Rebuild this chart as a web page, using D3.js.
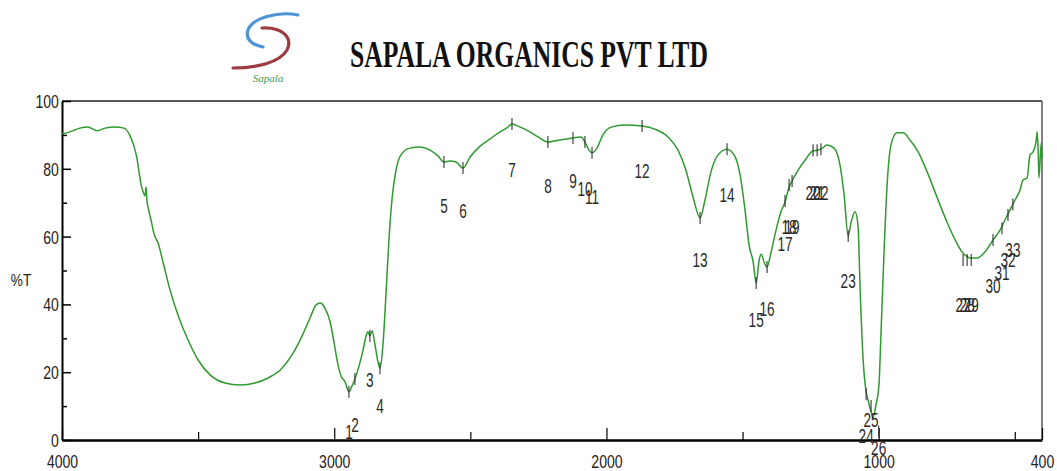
<!DOCTYPE html>
<html>
<head>
<meta charset="utf-8">
<script src="https://cdn.jsdelivr.net/npm/d3@7"></script>
<style>
  html, body { margin: 0; padding: 0; background: #fff; }
  svg { display: block; }
</style>
</head>
<body>
<script>
// Spectrum trace (wavenumber cm-1, %T)
const wavenumbers = [4000, 3971, 3934, 3905, 3871, 3842, 3805, 3772, 3750, 3736, 3725, 3717, 3710, 3702, 3695, 3691, 3688, 3680, 3673, 3662, 3647, 3629, 3603, 3574, 3537, 3500, 3456, 3401, 3346, 3291, 3243, 3199, 3155, 3118, 3089, 3067, 3052, 3034, 3015, 3001, 2986, 2975, 2960, 2946, 2935, 2924, 2909, 2894, 2883, 2876, 2869, 2861, 2850, 2839, 2832, 2821, 2810, 2799, 2788, 2773, 2755, 2722, 2685, 2648, 2619, 2597, 2575, 2553, 2527, 2501, 2464, 2428, 2391, 2362, 2347, 2325, 2288, 2251, 2215, 2171, 2123, 2093, 2079, 2064, 2053, 2035, 2013, 1983, 1932, 1869, 1822, 1774, 1737, 1708, 1682, 1656, 1638, 1616, 1590, 1557, 1531, 1509, 1491, 1476, 1461, 1450, 1439, 1432, 1421, 1410, 1395, 1377, 1359, 1344, 1329, 1318, 1296, 1270, 1241, 1226, 1212, 1190, 1164, 1142, 1127, 1112, 1101, 1087, 1076, 1068, 1057, 1046, 1039, 1028, 1021, 1010, 999, 991, 980, 969, 955, 933, 910, 885, 855, 822, 786, 749, 719, 694, 679, 664, 639, 609, 580, 554, 536, 521, 499, 481, 470, 455, 444, 433, 422, 418, 414, 411, 403, 400];
const transmittance = [90.3, 90.9, 92.0, 92.3, 91.2, 92.0, 92.3, 92.0, 89.7, 86.7, 83.2, 79.1, 75.5, 73.2, 72.0, 74.6, 70.8, 67.3, 64.9, 60.8, 58.1, 52.5, 44.2, 36.9, 29.5, 23.6, 19.2, 16.8, 16.2, 16.8, 18.3, 20.6, 25.1, 30.7, 36.0, 39.8, 40.4, 38.9, 34.8, 28.9, 22.1, 18.9, 17.1, 14.2, 15.9, 18.0, 21.8, 26.5, 30.7, 31.9, 30.7, 32.2, 28.0, 23.0, 21.2, 28.0, 42.8, 59.0, 70.8, 79.6, 84.1, 86.1, 86.4, 85.5, 83.8, 82.0, 82.3, 82.0, 80.2, 83.5, 86.7, 88.8, 90.9, 92.3, 93.2, 92.6, 91.2, 89.4, 87.9, 88.5, 89.1, 89.4, 87.9, 85.5, 84.7, 86.1, 90.0, 92.3, 92.9, 92.6, 91.7, 89.4, 85.5, 79.6, 71.7, 65.5, 70.8, 79.1, 84.1, 85.8, 84.1, 78.2, 67.8, 57.5, 52.5, 46.3, 53.1, 54.9, 52.5, 51.0, 55.5, 61.9, 67.3, 70.2, 74.6, 76.4, 79.6, 82.6, 85.3, 85.5, 85.8, 87.0, 86.1, 81.1, 72.3, 60.2, 64.3, 67.3, 63.4, 44.2, 23.6, 14.2, 11.8, 8.3, 6.5, 10.3, 16.2, 32.4, 56.0, 75.2, 87.0, 90.6, 90.6, 88.5, 85.0, 79.1, 71.7, 64.3, 59.0, 55.5, 54.3, 53.7, 53.7, 55.5, 59.0, 61.9, 64.9, 67.3, 70.8, 73.7, 76.7, 77.3, 84.1, 85.0, 87.9, 90.9, 85.0, 77.3, 87.6, 83.2];

// Peak picks: number, wavenumber, %T at the mark, %T where the number sits
const peakNumbers = [1, 2, 3, 4, 5, 6, 7, 8, 9, 10, 11, 12, 13, 14, 15, 16, 17, 18, 19, 20, 21, 22, 23, 24, 25, 26, 27, 28, 29, 30, 31, 32, 33];
const peakWavenumbers = [2946, 2924, 2869, 2832, 2597, 2527, 2347, 2215, 2123, 2079, 2053, 1869, 1656, 1557, 1450, 1410, 1344, 1329, 1318, 1241, 1226, 1212, 1112, 1046, 1028, 1000, 690, 675, 660, 580, 547, 525, 507];
const peakMarkT = [14.2, 18.0, 30.7, 21.2, 82.0, 80.2, 93.2, 87.9, 89.1, 87.9, 84.7, 92.6, 65.5, 85.8, 46.3, 51.0, 70.5, 75.2, 76.4, 85.5, 85.5, 85.8, 60.2, 13.5, 10.0, 2.5, 53.1, 53.1, 53.1, 59.0, 62.5, 66.4, 69.5];
const peakLabelT = [0.3, 2.4, 15.6, 8.0, 67.0, 65.5, 77.6, 72.9, 74.3, 72.0, 69.6, 77.3, 51.0, 70.2, 33.3, 36.6, 55.8, 60.8, 60.8, 70.8, 70.8, 70.8, 44.8, -0.9, 3.8, -4.4, 37.8, 37.8, 37.8, 43.4, 47.2, 51.0, 54.0];

// Axis ticks
const xMajorTicks = [4000, 3000, 2000, 1000, 400];
const xMinorTicks = [3500, 2500, 1500, 500];
const yMajorTicks = [0, 20, 40, 60, 80, 100];
const yMinorTicks = [10, 30, 50, 70, 90];

const W = 1057, H = 471;
const margin = { top: 101, right: 15, bottom: 31, left: 62 };
const width = W - margin.left - margin.right;
const height = H - margin.top - margin.bottom;
const green = '#2f9a2f';
const sansFont = '"Liberation Sans", Arial, sans-serif';

const svg = d3.select('body').append('svg')
    .attr('width', W)
    .attr('height', H);

svg.append('rect').attr('width', W).attr('height', H).attr('fill', '#fff');

// Logo
const logo = svg.append('g').attr('id', 'logo');
logo.append('path')
    .attr('d', 'M298,15 C278,11 252,18 248,30 C245,39 252,45 263,47')
    .attr('fill', 'none')
    .attr('stroke', '#4d93d6')
    .attr('stroke-width', 3.2)
    .attr('stroke-linecap', 'round');
logo.append('path')
    .attr('d', 'M262,28 C283,27 293,38 287,50 C280,62 258,68 233,68')
    .attr('fill', 'none')
    .attr('stroke', '#9c3b41')
    .attr('stroke-width', 3.2)
    .attr('stroke-linecap', 'round');
logo.append('text')
    .attr('x', 268)
    .attr('y', 82)
    .attr('text-anchor', 'middle')
    .attr('font-family', '"Liberation Serif", serif')
    .attr('font-style', 'italic')
    .attr('font-size', 11)
    .attr('fill', '#3c9a5c')
    .text('Sapala');

// Title
svg.append('text')
    .attr('x', 350)
    .attr('y', 67)
    .attr('font-family', '"Liberation Serif", "Times New Roman", serif')
    .attr('font-weight', 'bold')
    .attr('font-size', 38)
    .attr('textLength', 358)
    .attr('lengthAdjust', 'spacingAndGlyphs')
    .attr('fill', '#111')
    .text('SAPALA ORGANICS PVT LTD');

const g = svg.append('g')
    .attr('transform', `translate(${margin.left},${margin.top})`);

// Scales
const x = d3.scaleLinear().domain([4000, 400]).range([0, width]);
const y = d3.scaleLinear().domain([0, 100]).range([height, 0]);

// Frame top and right
g.append('line')
    .attr('x1', x(4000)).attr('x2', x(400))
    .attr('y1', y(100)).attr('y2', y(100))
    .attr('stroke', '#222').attr('stroke-width', 1.5);
g.append('line')
    .attr('x1', x(400)).attr('x2', x(400))
    .attr('y1', y(100)).attr('y2', y(0))
    .attr('stroke', '#555').attr('stroke-width', 1.5);

// Minor ticks
g.append('g')
    .call(d3.axisLeft(y).tickValues(yMinorTicks).tickSize(-5).tickFormat(''))
    .call(a => a.select('.domain').remove())
    .selectAll('line').attr('stroke-width', 1.5);
g.append('g')
    .attr('transform', `translate(0,${height})`)
    .call(d3.axisBottom(x).tickValues(xMinorTicks).tickSize(-8).tickFormat(''))
    .call(a => a.select('.domain').remove())
    .selectAll('line').attr('stroke-width', 1.2);

// Y axis
const yAxis = g.append('g')
    .attr('id', 'y-axis')
    .call(d3.axisLeft(y).tickValues(yMajorTicks).tickSize(-9).tickSizeOuter(0).tickPadding(4));
yAxis.select('.domain').attr('stroke-width', 2);
yAxis.selectAll('line').attr('stroke-width', 1.5);
yAxis.selectAll('text')
    .attr('font-family', sansFont)
    .attr('font-size', 18)
    .attr('fill', '#222')
    .attr('dy', '0.36em')
    .attr('transform', 'scale(0.78,1)');

// X axis
const xAxis = g.append('g')
    .attr('id', 'x-axis')
    .attr('transform', `translate(0,${height})`)
    .call(d3.axisBottom(x).tickValues(xMajorTicks).tickSize(-12).tickSizeOuter(0).tickPadding(0).tickFormat(d3.format('d')));
xAxis.select('.domain').attr('stroke-width', 2.5);
xAxis.selectAll('line').attr('stroke-width', 1.2);
xAxis.selectAll('text')
    .attr('font-family', sansFont)
    .attr('font-size', 18)
    .attr('fill', '#222')
    .attr('y', 28)
    .attr('dy', 0)
    .attr('transform', 'scale(0.78,1)');

// Y axis title
svg.append('text')
    .attr('transform', 'translate(21,286) scale(0.8,1)')
    .attr('text-anchor', 'middle')
    .attr('font-family', sansFont)
    .attr('font-size', 17)
    .attr('fill', '#222')
    .text('%T');

// Spectrum
const line = d3.line()
    .x((d, i) => x(wavenumbers[i]))
    .y(d => y(d))
    .curve(d3.curveMonotoneX);

g.append('path')
    .datum(transmittance)
    .attr('fill', 'none')
    .attr('stroke', green)
    .attr('stroke-width', 1.5)
    .attr('stroke-linejoin', 'round')
    .attr('d', line);

// Peak marks and numbers
const peaks = peakNumbers.map((n, i) => ({
    n: n, wn: peakWavenumbers[i], markT: peakMarkT[i], labelT: peakLabelT[i]
}));

g.selectAll('.peak-mark')
    .data(peaks)
    .enter()
    .append('line')
    .attr('class', 'peak-mark')
    .attr('x1', d => x(d.wn)).attr('x2', d => x(d.wn))
    .attr('y1', d => y(d.markT) - 6).attr('y2', d => y(d.markT) + 6)
    .attr('stroke', '#333')
    .attr('stroke-width', 1.1);

g.selectAll('.peak-label')
    .data(peaks)
    .enter()
    .append('text')
    .attr('class', 'peak-label')
    .attr('transform', d => `translate(${x(d.wn)},${y(d.labelT)}) scale(0.68,1)`)
    .attr('text-anchor', 'middle')
    .attr('font-family', sansFont)
    .attr('font-size', 20)
    .attr('fill', '#2a2a2a')
    .text(d => d.n);
</script>
</body>
</html>
